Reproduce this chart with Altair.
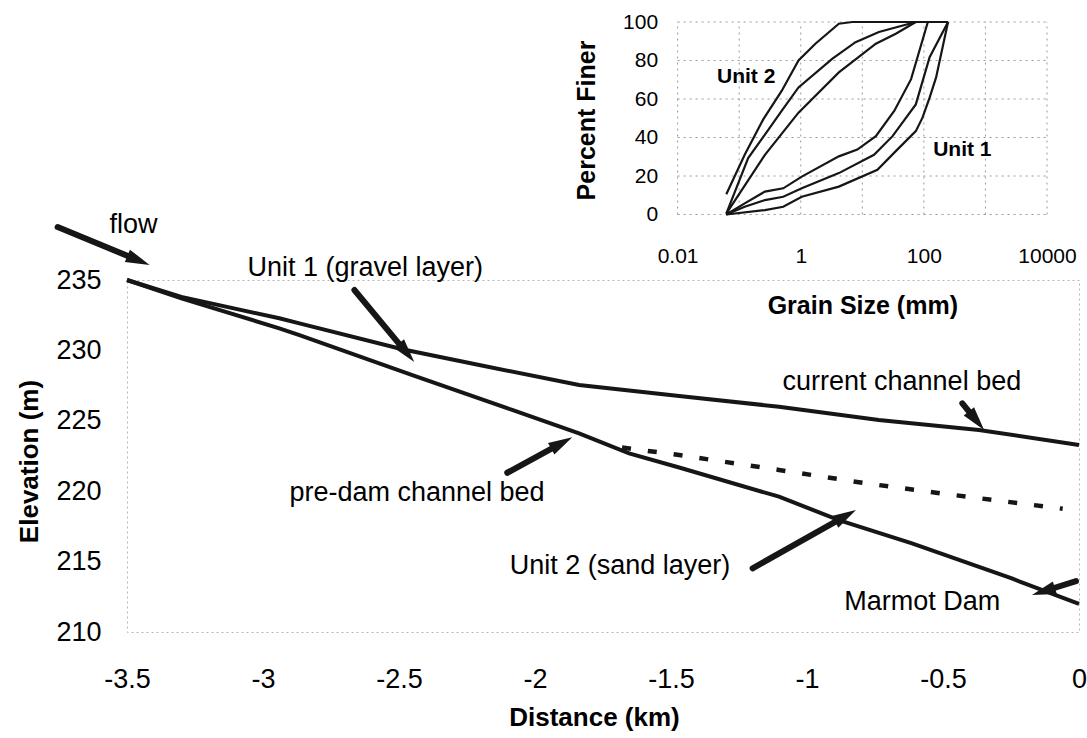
import math
import altair as alt
import pandas as pd

# ---------------- main long profile (distance km, elevation m) ----------------
cur_km = [-3.5, -3.3, -2.94, -2.866, -2.488, -2.205, -1.838, -1.47, -1.103, -0.736, -0.368, 0.0]
cur_el = [235.0, 233.8, 232.28, 231.92, 230.08, 228.96, 227.54, 226.76, 226.0, 225.06, 224.35, 223.28]

pre_km = [-3.5, -3.3, -2.94, -2.866, -2.451, -2.084, -1.838, -1.654, -1.47, -1.103, -0.883, -0.614, -0.247, -0.22, 0.0]
pre_el = [235.0, 233.7, 231.57, 231.09, 228.25, 225.77, 224.11, 222.69, 221.68, 219.61, 217.95, 216.3, 213.81, 213.6, 212.0]

u1b_km = [-1.68, -1.47, -1.103, -0.784, -0.49, -0.074, -0.06]
u1b_el = [223.1, 222.57, 221.51, 220.56, 219.8, 218.79, 218.75]

x_ticks = [-3.5, -3, -2.5, -2, -1.5, -1, -0.5, 0]
y_ticks = [210, 215, 220, 225, 230, 235]

# annotation arrows (tail -> tip, data coordinates)
arr_x1 = [-3.755, -2.664, -2.102, -0.429, -1.200, -0.011]
arr_y1 = [238.76, 234.29, 221.31, 226.24, 214.52, 213.62]
arr_x2 = [-3.417, -2.444, -1.863, -0.349, -0.820, -0.173]
arr_y2 = [236.07, 229.18, 223.83, 224.35, 218.66, 212.63]

lab_left_txt = ["flow", "Unit 1 (gravel layer)", "current channel bed", "pre-dam channel bed", "Marmot Dam"]
lab_left_x = [-3.564, -3.057, -1.090, -2.903, -0.863]
lab_left_y = [238.91, 235.85, 227.78, 219.85, 212.15]
lab_right_txt = ["Unit 2 (sand layer)"]
lab_right_x = [-1.282]
lab_right_y = [214.69]

# ---------------- inset: grain size distributions ----------------
u2a_d = [0.0618, 0.123, 0.246, 0.49, 0.92, 1.73, 4.16, 6.87, 247]
u2a_p = [10.5, 31, 49.4, 64.2, 80, 88.7, 99.1, 100, 100]
u2b_d = [0.0618, 0.14, 0.262, 0.49, 0.92, 3.24, 7.76, 18.6, 74]
u2b_p = [0.5, 29.3, 41.5, 53.8, 66, 80.8, 89.5, 94.8, 100]
u2c_d = [0.0618, 0.262, 0.92, 4.16, 16.6, 35, 74]
u2c_p = [0.5, 31, 52.9, 73.8, 88.7, 93.9, 100]
u1d_d = [0.0618, 0.123, 0.262, 0.52, 1.04, 4.16, 8.3, 16.6, 33, 62, 116]
u1d_p = [0, 5.8, 11.9, 13.6, 19.7, 30.2, 33.7, 40.7, 53.8, 70.3, 100]
u1e_d = [0.0618, 0.123, 0.262, 0.52, 1.04, 4.16, 15.5, 31, 74, 124, 247]
u1e_p = [0, 4, 7.5, 9.2, 13.6, 21.5, 31, 40.7, 57.2, 81.7, 100]
u1f_d = [0.0618, 0.262, 0.52, 1.04, 4.16, 17.6, 37, 74, 95, 124, 158, 247]
u1f_p = [0, 2.3, 4, 9.2, 14.5, 23.2, 33.7, 43.3, 50.3, 60.7, 71.2, 100]

inset_x_ticks = [0.01, 1, 100, 10000]
inset_y_ticks = [0, 20, 40, 60, 80, 100]
inset_grid_x = [0.01, 0.1, 1, 10, 100, 1000, 10000]
inset_grid_y = [0, 20, 40, 60, 80, 100]
inset_lab_txt = ["Unit 2", "Unit 1"]
inset_lab_d = [0.130, 422]
inset_lab_p = [71.3, 33.7]

# ---------------- layout ----------------
W, H = 952, 352
PAD = {"left": 127, "top": 280, "right": 8, "bottom": 106}
KX = W / 3.5
KY = H / 25.0
INK = "#161616"
FONT = "Liberation Sans"

xs = alt.Scale(domain=[-3.5, 0], nice=False, zero=False)
ys = alt.Scale(domain=[210, 235], nice=False, zero=False)
ixs = alt.Scale(type="log", domain=[0.01, 10000], range=[550.6, 920], nice=False)
iys = alt.Scale(domain=[0, 100], range=[-65.5, -258], nice=False, zero=False)

# ---- main layers (same axis object on every layer so they merge) ----
x_axis = alt.Axis(values=x_ticks, title="Distance (km)", format="~g",
                  labelExpr="replace(datum.label, '\u2212', '-')",
                  ticks=False, domain=False, grid=False, labelFontSize=27, labelPadding=34,
                  labelColor="black", labelFlush=False, labelOverlap=False,
                  titleFontSize=26, titleFontWeight="bold", titleColor="black",
                  titleX=467, titleY=85, titleBaseline="middle", titleAlign="center")
y_axis = alt.Axis(values=y_ticks, title="Elevation (m)", ticks=False, domain=False, grid=False,
                  labelFontSize=27, labelPadding=26, labelColor="black", labelFlush=False,
                  titleFontSize=26, titleFontWeight="bold", titleColor="black",
                  titleAngle=270, titleX=-98, titleY=181, titleBaseline="middle", titleAlign="center")


def mx(field):
    return alt.X(field, type="quantitative", scale=xs, axis=x_axis)


def my(field):
    return alt.Y(field, type="quantitative", scale=ys, axis=y_axis)


cur = pd.DataFrame({"km": cur_km, "el": cur_el})
pre = pd.DataFrame({"km": pre_km, "el": pre_el})
u1b = pd.DataFrame({"km": u1b_km, "el": u1b_el})

cur_line = alt.Chart(cur).mark_line(color=INK, strokeWidth=4).encode(x=mx("km"), y=my("el"), order="km:Q")
pre_line = alt.Chart(pre).mark_line(color=INK, strokeWidth=4).encode(x=mx("km"), y=my("el"), order="km:Q")
u1b_line = alt.Chart(u1b).mark_line(color=INK, strokeWidth=4.5, strokeDash=[9, 17]).encode(
    x=mx("km"), y=my("el"), order="km:Q")

# arrows: shaft stops inside the head; head rotated along the arrow
HEAD_LEN = 24.0
sx, sy, ang = [], [], []
for x1, y1, x2, y2 in zip(arr_x1, arr_y1, arr_x2, arr_y2):
    dxp = (x2 - x1) * KX
    dyp = -(y2 - y1) * KY
    L = math.hypot(dxp, dyp)
    ang.append(math.degrees(math.atan2(dxp, -dyp)) % 360)
    s = 0.55 * HEAD_LEN
    sx.append(x2 - s * dxp / L / KX)
    sy.append(y2 + s * dyp / L / KY)
arr = pd.DataFrame({"x1": arr_x1, "y1": arr_y1, "x2": arr_x2, "y2": arr_y2,
                    "sx": sx, "sy": sy, "ang": ang})

shafts = alt.Chart(arr).mark_rule(color=INK, strokeWidth=6, strokeCap="round").encode(
    x=mx("x1"), y=my("y1"), x2="sx:Q", y2="sy:Q")
heads = alt.Chart(arr).mark_point(shape="M0,0 L0.5,1.8 L-0.5,1.8 Z", filled=True, size=711,
                                  color=INK, opacity=1, strokeWidth=0).encode(
    x=mx("x2"), y=my("y2"), angle=alt.Angle("ang:Q", scale=None))

tl = pd.DataFrame({"t": lab_left_txt, "x": lab_left_x, "y": lab_left_y})
tr = pd.DataFrame({"t": lab_right_txt, "x": lab_right_x, "y": lab_right_y})
txt_left = alt.Chart(tl).mark_text(align="left", baseline="middle", fontSize=27, color="black", font=FONT).encode(
    x=mx("x"), y=my("y"), text="t:N")
txt_right = alt.Chart(tr).mark_text(align="right", baseline="middle", fontSize=27, color="black", font=FONT).encode(
    x=mx("x"), y=my("y"), text="t:N")

main = alt.layer(cur_line, pre_line, u1b_line, shafts, heads, txt_left, txt_right)

# ---- inset layers ----
curves = []
for name, d, p in [("u2a", u2a_d, u2a_p), ("u2b", u2b_d, u2b_p), ("u2c", u2c_d, u2c_p),
                   ("u1d", u1d_d, u1d_p), ("u1e", u1e_d, u1e_p), ("u1f", u1f_d, u1f_p)]:
    for i, (dv, pv) in enumerate(zip(d, p)):
        curves.append({"curve": name, "d": dv, "p": pv, "i": i})
curves = pd.DataFrame(curves)

ix_axis = alt.Axis(orient="bottom", offset=-(H + 65.5), values=inset_x_ticks, format="~g",
                   ticks=False, domain=False, grid=False, labelFontSize=21, labelPadding=31,
                   labelColor="black", labelFlush=False, labelOverlap=False,
                   title="Grain Size (mm)", titleFontSize=25, titleFontWeight="bold", titleColor="black",
                   titleY=91, titleBaseline="middle")
iy_axis = alt.Axis(orient="left", offset=-550.6, values=inset_y_ticks,
                   ticks=False, domain=False, grid=False, labelFontSize=21, labelPadding=20,
                   labelColor="black", labelFlush=False,
                   title="Percent Finer", titleFontSize=25, titleFontWeight="bold", titleColor="black",
                   titleAngle=270, titleX=-91, titleY=-160, titleBaseline="middle", titleAlign="center")


def ix(field):
    return alt.X(field, type="quantitative", scale=ixs, axis=ix_axis)


def iy(field):
    return alt.Y(field, type="quantitative", scale=iys, axis=iy_axis)


gridx = alt.Chart(pd.DataFrame({"g": inset_grid_x, "lo": [inset_y_ticks[0]] * len(inset_grid_x),
                                "hi": [inset_y_ticks[-1]] * len(inset_grid_x)})).mark_rule(
    color="#9a9a9a", strokeWidth=1, strokeDash=[2, 4]).encode(x=ix("g"), y=iy("lo"), y2="hi:Q")
gridy = alt.Chart(pd.DataFrame({"g": inset_grid_y, "lo": [inset_x_ticks[0]] * len(inset_grid_y),
                                "hi": [inset_x_ticks[-1]] * len(inset_grid_y)})).mark_rule(
    color="#9a9a9a", strokeWidth=1, strokeDash=[2, 4]).encode(y=iy("g"), x=ix("lo"), x2="hi:Q")
curve_lines = alt.Chart(curves).mark_line(color=INK, strokeWidth=2.2).encode(
    x=ix("d"), y=iy("p"), detail="curve:N", order="i:Q")
inset_txt = alt.Chart(pd.DataFrame({"t": inset_lab_txt, "d": inset_lab_d, "p": inset_lab_p})).mark_text(
    align="center", baseline="middle", fontSize=21, fontWeight="bold", color="black", font=FONT).encode(
    x=ix("d"), y=iy("p"), text="t:N")

inset = alt.layer(gridx, gridy, curve_lines, inset_txt)

chart = alt.layer(main, inset).resolve_scale(x="independent", y="independent").properties(
    width=W, height=H, padding=PAD, autosize=alt.AutoSizeParams(type="none"), background="white"
).configure(font=FONT).configure_view(stroke="#b5b5b5", strokeWidth=1, strokeDash=[2, 3])

chart.save("out.html", embed_options={"renderer": "svg", "actions": False})
